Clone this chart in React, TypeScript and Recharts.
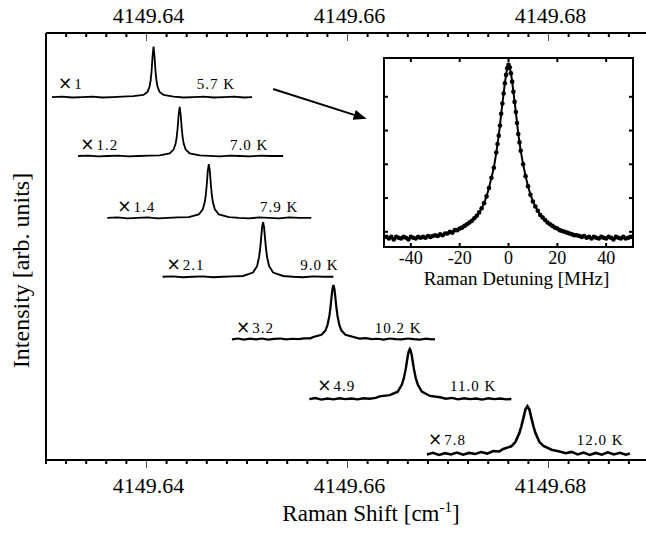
import React from "react";
import { LineChart, Line, XAxis, YAxis, ReferenceDot, ReferenceLine, ReferenceArea } from "recharts";

const FONT = "Liberation Serif, serif";

// [Raman shift (cm-1), offset intensity (arb. units)]
const t57: [number, number][] = [
  [4149.6306, 85.0], [4149.6316, 85.1], [4149.6326, 84.9], [4149.6336, 85.0], [4149.6346, 85.1],
  [4149.6356, 84.9], [4149.6366, 85.0], [4149.6376, 85.1], [4149.6387, 85.2], [4149.6397, 85.5],
  [4149.6401, 86.2], [4149.6403, 87.4], [4149.6404, 88.7], [4149.6405, 90.9], [4149.6406, 94.4],
  [4149.6407, 96.8], [4149.6408, 94.4], [4149.6409, 90.9], [4149.641, 88.7], [4149.6411, 87.4],
  [4149.6413, 86.2], [4149.6417, 85.5], [4149.6427, 85.1], [4149.6437, 84.9], [4149.6447, 85.0],
  [4149.6457, 85.1], [4149.6467, 84.9], [4149.6477, 85.0], [4149.6487, 85.1], [4149.6497, 84.9],
  [4149.6505, 85.0],
];

const t70: [number, number][] = [
  [4149.6332, 71.2], [4149.6342, 71.3], [4149.6352, 71.1], [4149.6362, 71.2], [4149.6372, 71.3],
  [4149.6382, 71.1], [4149.6392, 71.2], [4149.6402, 71.3], [4149.6413, 71.35], [4149.6423, 71.8],
  [4149.6427, 72.7], [4149.6429, 74.1], [4149.643, 75.5], [4149.6431, 77.8], [4149.6432, 80.9],
  [4149.6433, 82.7], [4149.6434, 80.9], [4149.6435, 77.8], [4149.6436, 75.5], [4149.6437, 74.1],
  [4149.6439, 72.7], [4149.6443, 71.8], [4149.6453, 71.35], [4149.6463, 71.2], [4149.6473, 71.1],
  [4149.6483, 71.3], [4149.6493, 71.2], [4149.6503, 71.1], [4149.6513, 71.3], [4149.6523, 71.2],
  [4149.6536, 71.2],
];

const t79: [number, number][] = [
  [4149.6361, 56.7], [4149.6371, 56.8], [4149.6381, 56.6], [4149.6391, 56.7], [4149.6401, 56.8],
  [4149.6411, 56.6], [4149.6421, 56.7], [4149.6431, 56.8], [4149.6442, 56.9], [4149.6452, 57.5],
  [4149.6456, 58.7], [4149.6458, 60.4], [4149.6459, 62.1], [4149.646, 64.6], [4149.6461, 67.7],
  [4149.6462, 69.3], [4149.6463, 67.7], [4149.6464, 64.6], [4149.6465, 62.1], [4149.6466, 60.4],
  [4149.6468, 58.7], [4149.6472, 57.5], [4149.6482, 56.9], [4149.6492, 56.7], [4149.6502, 56.6],
  [4149.6512, 56.8], [4149.6522, 56.7], [4149.6532, 56.6], [4149.6542, 56.8], [4149.6552, 56.7],
  [4149.6564, 56.7],
];

const t90: [number, number][] = [
  [4149.6416, 42.9], [4149.6426, 43.0], [4149.6436, 42.8], [4149.6446, 42.9], [4149.6456, 43.0],
  [4149.6466, 42.8], [4149.6476, 42.9], [4149.6486, 43.0], [4149.6496, 43.1], [4149.6506, 43.9],
  [4149.651, 45.4], [4149.6512, 47.5], [4149.6513, 49.3], [4149.6514, 51.8], [4149.6515, 54.5],
  [4149.6516, 55.7], [4149.6517, 54.5], [4149.6518, 51.8], [4149.6519, 49.3], [4149.652, 47.5],
  [4149.6522, 45.4], [4149.6526, 43.9], [4149.6536, 43.1], [4149.6546, 42.9], [4149.6556, 42.8],
  [4149.6566, 43.0], [4149.6576, 42.9], [4149.6586, 42.9],
];

const t102: [number, number][] = [
  [4149.6485, 28.25], [4149.6491, 28.45], [4149.6497, 28.2], [4149.6503, 28.4], [4149.6509, 28.25],
  [4149.6515, 28.45], [4149.6521, 28.2], [4149.6527, 28.35], [4149.6533, 28.45], [4149.6539, 28.25],
  [4149.6545, 28.4], [4149.6551, 28.3], [4149.6557, 28.5], [4149.6563, 28.5], [4149.6566, 28.8],
  [4149.6574, 29.3], [4149.6578, 30.3], [4149.658, 31.5], [4149.6582, 33.8], [4149.6583, 35.6],
  [4149.6584, 37.9], [4149.6585, 40.0], [4149.6586, 41.0], [4149.6587, 40.0], [4149.6588, 37.9],
  [4149.6589, 35.6], [4149.659, 33.8], [4149.6592, 31.5], [4149.6594, 30.3], [4149.6598, 29.3],
  [4149.6606, 28.8], [4149.6612, 28.45], [4149.6618, 28.55], [4149.6624, 28.3], [4149.663, 28.4],
  [4149.6636, 28.2], [4149.6642, 28.45], [4149.6648, 28.3], [4149.6654, 28.25], [4149.666, 28.45],
  [4149.6666, 28.3], [4149.6672, 28.2], [4149.6678, 28.4], [4149.6684, 28.25], [4149.6687, 28.3],
];

const t110: [number, number][] = [
  [4149.6562, 14.25], [4149.6568, 14.5], [4149.6574, 14.15], [4149.658, 14.4], [4149.6586, 14.2],
  [4149.6592, 14.45], [4149.6598, 14.25], [4149.6604, 14.4], [4149.661, 14.2], [4149.6616, 14.45],
  [4149.6622, 14.35], [4149.6628, 14.55], [4149.6632, 14.9], [4149.6642, 15.2], [4149.665, 16.0],
  [4149.6654, 17.6], [4149.6656, 19.1], [4149.6658, 21.4], [4149.6659, 22.9], [4149.666, 24.4],
  [4149.6661, 25.5], [4149.6662, 26.0], [4149.6663, 25.5], [4149.6664, 24.4], [4149.6665, 22.9],
  [4149.6666, 21.4], [4149.6668, 19.1], [4149.667, 17.6], [4149.6674, 16.0], [4149.6682, 15.0],
  [4149.6692, 14.7], [4149.6698, 14.35], [4149.6704, 14.55], [4149.671, 14.2], [4149.6716, 14.45],
  [4149.6722, 14.25], [4149.6728, 14.4], [4149.6734, 14.15], [4149.674, 14.45], [4149.6746, 14.25],
  [4149.6752, 14.4], [4149.6758, 14.2], [4149.6763, 14.3],
];

const t120: [number, number][] = [
  [4149.6679, 1.3], [4149.6685, 1.7], [4149.6691, 1.2], [4149.6697, 1.6], [4149.6703, 1.3],
  [4149.6709, 1.75], [4149.6715, 1.25], [4149.6721, 1.65], [4149.6727, 1.4], [4149.6733, 1.85],
  [4149.6739, 1.5], [4149.6745, 2.1], [4149.6751, 2.0], [4149.6755, 2.6], [4149.6763, 3.2],
  [4149.6767, 4.2], [4149.6771, 6.3], [4149.6773, 7.9], [4149.6775, 9.8], [4149.6777, 11.8],
  [4149.6779, 12.6], [4149.6781, 11.8], [4149.6783, 9.8], [4149.6785, 7.9], [4149.6787, 6.3],
  [4149.6791, 4.2], [4149.6795, 3.3], [4149.6803, 2.4], [4149.6811, 2.0], [4149.6817, 1.6],
  [4149.6823, 1.9], [4149.6829, 1.3], [4149.6835, 1.75], [4149.6841, 1.2], [4149.6847, 1.65],
  [4149.6853, 1.25], [4149.6859, 1.8], [4149.6865, 1.3], [4149.6871, 1.7], [4149.6877, 1.25],
  [4149.6881, 1.5],
];

// inset: [Raman detuning (MHz), normalised intensity] for the 5.7 K line
const detuning: [number, number][] = [
  [-50, -0.03], [-49, -0.04], [-48, -0.03], [-47, -0.045], [-46, -0.03], [-45, -0.035], [-44, -0.04],
  [-43, -0.03], [-42, -0.035], [-41, -0.045], [-40, -0.03], [-39, -0.035], [-38, -0.04], [-37, -0.03],
  [-36, -0.035], [-35, -0.03], [-34, -0.035], [-33, -0.025], [-32, -0.03], [-31, -0.025], [-30, -0.02],
  [-29, -0.025], [-28, -0.015], [-27, -0.02], [-26, -0.01], [-25, -0.01], [-24, 0.0], [-23, -0.005],
  [-22, 0.01], [-21, 0.01], [-20, 0.02], [-19, 0.025], [-18, 0.035], [-17, 0.045], [-16, 0.055],
  [-15, 0.065], [-14, 0.08], [-13, 0.095], [-12, 0.115], [-11, 0.14], [-10, 0.17], [-9, 0.21],
  [-8, 0.26], [-7, 0.32], [-6, 0.38], [-5, 0.47], [-4.5, 0.52], [-4, 0.57], [-3.5, 0.63], [-3, 0.7],
  [-2.5, 0.76], [-2, 0.82], [-1.5, 0.88], [-1, 0.93], [-0.5, 0.97], [0, 0.99], [0.5, 0.975], [1, 0.94],
  [1.5, 0.89], [2, 0.83], [2.5, 0.77], [3, 0.71], [3.5, 0.645], [4, 0.58], [4.5, 0.53], [5, 0.48],
  [6, 0.4], [7, 0.33], [8, 0.27], [9, 0.22], [10, 0.18], [11, 0.15], [12, 0.125], [13, 0.1],
  [14, 0.085], [15, 0.07], [16, 0.055], [17, 0.045], [18, 0.035], [19, 0.025], [20, 0.02], [21, 0.01],
  [22, 0.005], [23, 0.0], [24, -0.005], [25, -0.01], [26, -0.015], [27, -0.02], [28, -0.02],
  [29, -0.025], [30, -0.03], [31, -0.025], [32, -0.035], [33, -0.03], [34, -0.04], [35, -0.03],
  [36, -0.035], [37, -0.04], [38, -0.03], [39, -0.035], [40, -0.04], [41, -0.03], [42, -0.035],
  [43, -0.045], [44, -0.03], [45, -0.035], [46, -0.04], [47, -0.03], [48, -0.04], [49, -0.035],
  [50, -0.03],
];

const scaleLabels = ["1", "1.2", "1.4", "2.1", "3.2", "4.9", "7.8"];
const tempLabels = ["5.7 K", "7.0 K", "7.9 K", "9.0 K", "10.2 K", "11.0 K", "12.0 K"];
const traceWidths = [1.8, 1.8, 1.8, 1.9, 2.2, 2.4, 2.6];

const majorTicks = [4149.64, 4149.66, 4149.68];
const minorTicks = Array.from({ length: 30 }, (_, i) => +(4149.63 + i * 0.002).toFixed(3));
const insetXTicks = [-40, -20, 0, 20, 40];
const insetYTicks = [0, 0.2, 0.4, 0.6, 0.8];
const insetXDomain: [number, number] = [-51, 51];
const insetYDomain: [number, number] = [-0.09, 1.03];

// where the annotations sit (data units)
const labelSpots = [
  { scaleX: 4149.6312, tempX: 4149.645, y: 86.9 },
  { scaleX: 4149.6334, tempX: 4149.6483, y: 72.6 },
  { scaleX: 4149.6371, tempX: 4149.6513, y: 58.0 },
  { scaleX: 4149.642, tempX: 4149.6553, y: 44.5 },
  { scaleX: 4149.6489, tempX: 4149.6627, y: 29.7 },
  { scaleX: 4149.657, tempX: 4149.6702, y: 16.2 },
  { scaleX: 4149.668, tempX: 4149.6828, y: 3.5 },
];

const traces = [t57, t70, t79, t90, t102, t110, t120].map((pts) =>
  pts.map(([x, y]) => ({ x, y }))
);
const insetData = detuning.map(([x, y]) => ({ x, y }));

const isMajor = (v: number) => majorTicks.some((m) => Math.abs(m - v) < 1e-6);

const MainTick = (props: any) => {
  const { x, y, payload, top } = props;
  const major = isMajor(payload.value);
  return (
    <g>
      <line
        x1={x}
        x2={x}
        y1={y}
        y2={y + (major ? 8 : 4)}
        stroke={major ? "#555" : "#000"}
        strokeWidth={major ? 1 : 2}
      />
      {major && (
        <text x={x + 2} y={top ? y - 10 : y + 33} textAnchor="middle" fontSize={22} fontFamily={FONT} fill="#000">
          {payload.value.toFixed(2)}
        </text>
      )}
    </g>
  );
};

const Arrow = (p: any) => {
  const { x1, y1, x2, y2 } = p;
  const a = Math.atan2(y2 - y1, x2 - x1);
  const bx = x2 - 13 * Math.cos(a);
  const by = y2 - 13 * Math.sin(a);
  const s = Math.sin(a) * 5;
  const c = Math.cos(a) * 5;
  return (
    <g>
      <line x1={x1} y1={y1} x2={bx} y2={by} stroke="#000" strokeWidth={2} />
      <polygon points={`${x2},${y2} ${bx + s},${by - c} ${bx - s},${by + c}`} fill="#000" />
    </g>
  );
};

const SpecLabel = ({ cx, cy, text, times }: any) => (
  <text x={cx} y={cy} fontSize={15} fontFamily={FONT} letterSpacing={1} fill="#000">
    {times ? (
      <>
        <tspan fontFamily="DejaVu Sans, sans-serif" fontSize={17}>×</tspan>
        <tspan dx={1}>{text}</tspan>
      </>
    ) : (
      text
    )}
  </text>
);

const frame = { stroke: "#000", strokeWidth: 2 };

function Inset() {
  return (
    <LineChart width={257} height={243} margin={{ top: 0, right: 0, bottom: 0, left: 0 }}>
      <XAxis
        xAxisId="b"
        type="number"
        dataKey="x"
        domain={insetXDomain}
        allowDataOverflow
        ticks={insetXTicks}
        interval={0}
        height={50}
        tickSize={0}
        tickMargin={0}
        tickLine={false}
        axisLine={frame}
        tick={(p: any) => (
          <g>
            <line x1={p.x} x2={p.x} y1={p.y} y2={p.y - 4} stroke="#000" strokeWidth={2} />
            <text x={p.x} y={p.y + 17} textAnchor="middle" fontSize={18} fontFamily={FONT} fill="#000">
              {p.payload.value}
            </text>
          </g>
        )}
        label={{
          content: ({ viewBox }: any) => (
            <text
              x={viewBox.x + viewBox.width / 2 + 8}
              y={viewBox.y + 38}
              textAnchor="middle"
              fontSize={19}
              fontFamily={FONT}
              fill="#000"
            >
              Raman Detuning [MHz]
            </text>
          ),
        }}
      />
      <XAxis
        xAxisId="t"
        orientation="top"
        type="number"
        dataKey="x"
        domain={insetXDomain}
        allowDataOverflow
        ticks={insetXTicks}
        interval={0}
        height={4}
        tickSize={0}
        tickMargin={0}
        tickLine={false}
        axisLine={frame}
        tick={(p: any) => <line x1={p.x} x2={p.x} y1={p.y} y2={p.y + 4} stroke="#000" strokeWidth={2} />}
      />
      <YAxis
        yAxisId="l"
        type="number"
        domain={insetYDomain}
        allowDataOverflow
        ticks={insetYTicks}
        interval={0}
        width={4}
        tickSize={0}
        tickMargin={0}
        tickLine={false}
        axisLine={frame}
        tick={(p: any) => <line x1={p.x} x2={p.x + 4} y1={p.y} y2={p.y} stroke="#000" strokeWidth={2} />}
      />
      <YAxis
        yAxisId="r"
        orientation="right"
        type="number"
        domain={insetYDomain}
        allowDataOverflow
        ticks={insetYTicks}
        interval={0}
        width={4}
        tickSize={0}
        tickMargin={0}
        tickLine={false}
        axisLine={frame}
        tick={(p: any) => <line x1={p.x} x2={p.x - 4} y1={p.y} y2={p.y} stroke="#000" strokeWidth={2} />}
      />
      <ReferenceArea
        xAxisId="b"
        yAxisId="l"
        x1={insetXDomain[0]}
        x2={insetXDomain[1]}
        y1={insetYDomain[0]}
        y2={insetYDomain[1]}
        fill="none"
        stroke="#000"
        strokeWidth={2}
        ifOverflow="visible"
      />
      <Line
        xAxisId="b"
        yAxisId="l"
        data={insetData}
        dataKey="y"
        type="linear"
        stroke="#000"
        strokeWidth={2}
        dot={{ r: 2.3, fill: "#000", stroke: "none" }}
        activeDot={false}
        isAnimationActive={false}
      />
    </LineChart>
  );
}

export default function App() {
  return (
    <div style={{ position: "absolute", left: 0, top: 0, width: 646, height: 533, background: "#fff", fontFamily: FONT }}>
      <LineChart width={646} height={533} margin={{ top: 0, right: 0, bottom: 0, left: 0 }}>
        <XAxis
          xAxisId="top"
          orientation="top"
          type="number"
          dataKey="x"
          domain={[4149.63, 4149.6897]}
          allowDataOverflow
          ticks={minorTicks}
          interval={0}
          height={33}
          tickSize={0}
          tickMargin={0}
          tickLine={false}
          axisLine={frame}
          tick={(p: any) => <MainTick {...p} top />}
        />
        <XAxis
          xAxisId="bottom"
          type="number"
          dataKey="x"
          domain={[4149.63, 4149.6897]}
          allowDataOverflow
          ticks={minorTicks}
          interval={0}
          height={73}
          tickSize={0}
          tickMargin={0}
          tickLine={false}
          axisLine={frame}
          tick={(p: any) => <MainTick {...p} />}
          label={{
            content: ({ viewBox }: any) => (
              <text
                x={viewBox.x + viewBox.width / 2 + 25}
                y={viewBox.y + 61}
                textAnchor="middle"
                fontSize={23}
                fontFamily={FONT}
                fill="#000"
              >
                <tspan>Raman Shift [cm</tspan>
                <tspan fontSize={15} dy={-9}>-1</tspan>
                <tspan dy={9}>]</tspan>
              </text>
            ),
          }}
        />
        <YAxis
          yAxisId="y"
          type="number"
          domain={[0, 100]}
          allowDataOverflow
          width={46}
          tick={false}
          tickLine={false}
          axisLine={frame}
          label={{
            content: ({ viewBox }: any) => (
              <text
                transform={`translate(${viewBox.x + 29},${viewBox.y + viewBox.height / 2 + 24}) rotate(-90)`}
                textAnchor="middle"
                fontSize={24}
                fontFamily={FONT}
                fill="#000"
              >
                Intensity [arb. units]
              </text>
            ),
          }}
        />
        {traces.map((d, i) => (
          <Line
            key={tempLabels[i]}
            xAxisId="bottom"
            yAxisId="y"
            data={d}
            dataKey="y"
            type="linear"
            stroke="#000"
            strokeWidth={traceWidths[i]}
            dot={false}
            activeDot={false}
            isAnimationActive={false}
          />
        ))}
        {labelSpots.map((s, i) => (
          <ReferenceDot
            key={"s" + i}
            xAxisId="bottom"
            yAxisId="y"
            x={s.scaleX}
            y={s.y}
            r={0}
            shape={(p: any) => <SpecLabel cx={p.cx} cy={p.cy} text={scaleLabels[i]} times />}
          />
        ))}
        {labelSpots.map((s, i) => (
          <ReferenceDot
            key={"t" + i}
            xAxisId="bottom"
            yAxisId="y"
            x={s.tempX}
            y={s.y}
            r={0}
            shape={(p: any) => <SpecLabel cx={p.cx} cy={p.cy} text={tempLabels[i]} />}
          />
        ))}
        <ReferenceLine
          xAxisId="bottom"
          yAxisId="y"
          segment={[
            { x: 4149.6526, y: 86.9 },
            { x: 4149.6619, y: 79.9 },
          ]}
          shape={(p: any) => <Arrow {...p} />}
        />
      </LineChart>
      <div style={{ position: "absolute", left: 380, top: 54 }}>
        <Inset />
      </div>
    </div>
  );
}
